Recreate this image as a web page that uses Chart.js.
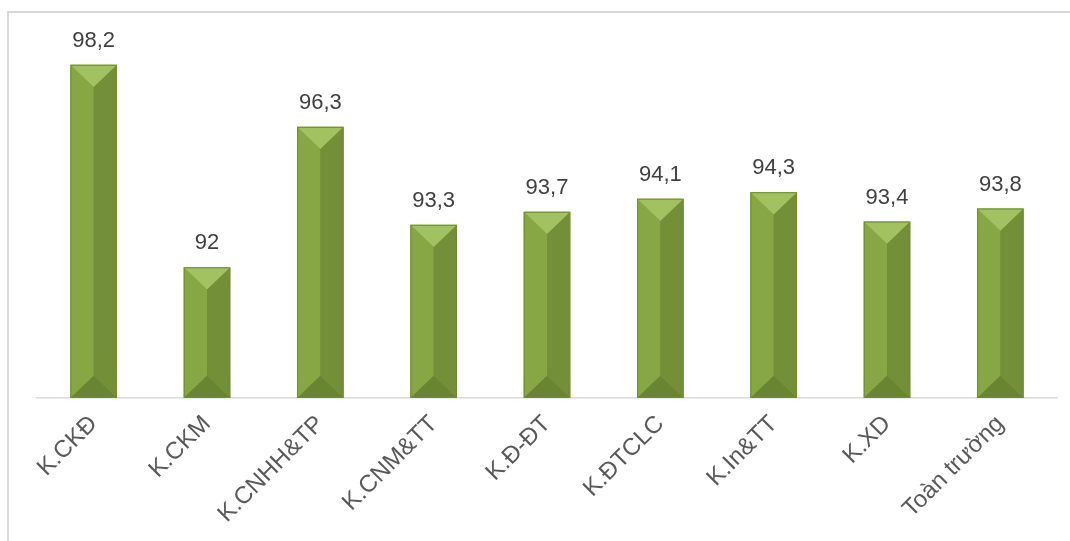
<!DOCTYPE html>
<html>
<head>
<meta charset="utf-8">
<script src="https://cdn.jsdelivr.net/npm/chart.js@4"></script>
<style>
   html, body { margin: 0; padding: 0; background: #fff; }
   #wrap { position: relative; width: 1070px; height: 541px; }
   #frame {
      position: absolute; left: 7px; top: 11px; right: -5px; bottom: -5px;
      border-left: 2px solid #d9d9d9; border-top: 2px solid #d9d9d9;
   }
   canvas { position: absolute; left: 0; top: 0; }
</style>
</head>
<body>
<div id="wrap">
   <div id="frame"></div>
   <canvas id="barChart" width="1070" height="541"></canvas>
</div>
<script>
// categories + values
const khoa = ["K.CKĐ", "K.CKM", "K.CNHH&TP", "K.CNM&TT", "K.Đ-ĐT", "K.ĐTCLC", "K.In&TT", "K.XD", "Toàn trường"];
const tyLe = [98.2, 92, 96.3, 93.3, 93.7, 94.1, 94.3, 93.4, 93.8];

// bevel look like the excel bars
const bevelBars = {
   id: "bevelBars",
   afterDatasetsDraw(chart) {
      const ctx = chart.ctx;
      const meta = chart.getDatasetMeta(0);
      meta.data.forEach(function (bar) {
         const x0 = bar.x - bar.width / 2;
         const x1 = bar.x + bar.width / 2;
         const xc = bar.x;
         const top = bar.y;
         const bot = Math.min(bar.base, chart.chartArea.bottom);
         const b = Math.min(bar.width / 2 - 1, (bot - top) / 2);

         function poly(pts, color) {
            ctx.beginPath();
            ctx.moveTo(pts[0][0], pts[0][1]);
            for (let i = 1; i < pts.length; i++) ctx.lineTo(pts[i][0], pts[i][1]);
            ctx.closePath();
            ctx.fillStyle = color;
            ctx.fill();
         }
         ctx.save();
         // left side
         poly([[x0, top], [xc, top + b], [xc, bot - b], [x0, bot]], "#86a744");
         // right side
         poly([[x1, top], [xc, top + b], [xc, bot - b], [x1, bot]], "#738f38");
         // top
         poly([[x0, top], [x1, top], [xc, top + b]], "#a2c160");
         // bottom
         poly([[x0, bot], [x1, bot], [xc, bot - b]], "#6a8532");
         ctx.strokeStyle = "#6f8d35";
         ctx.lineWidth = 1;
         ctx.strokeRect(x0 + 0.5, top + 0.5, bar.width - 1, bot - top - 1);
         ctx.restore();
      });
   },
};

// value labels above bars
const valueLabels = {
   id: "valueLabels",
   afterDraw(chart) {
      const ctx = chart.ctx;
      const meta = chart.getDatasetMeta(0);
      ctx.save();
      ctx.font = "22px 'Liberation Sans', Arial, sans-serif";
      ctx.fillStyle = "#404040";
      ctx.textAlign = "center";
      ctx.textBaseline = "alphabetic";
      meta.data.forEach(function (bar, i) {
         ctx.fillText(String(tyLe[i]).replace(".", ","), bar.x, bar.y - 18);
      });
      ctx.restore();
   },
};

const barctx = document.getElementById("barChart").getContext("2d");
const barChart = new Chart(barctx, {
   type: "bar",
   data: {
      labels: khoa,
      datasets: [
         {
            label: "Tỷ lệ",
            data: tyLe,
            backgroundColor: "#7a9a3b",
            barPercentage: 0.41,
            categoryPercentage: 1,
         },
      ],
   },
   options: {
      responsive: false,
      animation: false,
      layout: {
         padding: { left: 37, right: 13, top: 6, bottom: 0 },
      },
      plugins: {
         legend: { display: false },
         tooltip: { enabled: false },
      },
      scales: {
         y: {
            display: false,
            min: 88,
            max: 100,
         },
         x: {
            grid: { display: false },
            border: { display: true, color: "#d9d9d9", width: 1.5 },
            ticks: {
               color: "#595959",
               font: { family: "'Liberation Sans', Arial, sans-serif", size: 24 },
               maxRotation: 45,
               minRotation: 45,
               padding: 4,
            },
            afterFit: function (scale) {
               scale.height = 143;
            },
         },
      },
   },
   plugins: [bevelBars, valueLabels],
});
</script>
</body>
</html>
